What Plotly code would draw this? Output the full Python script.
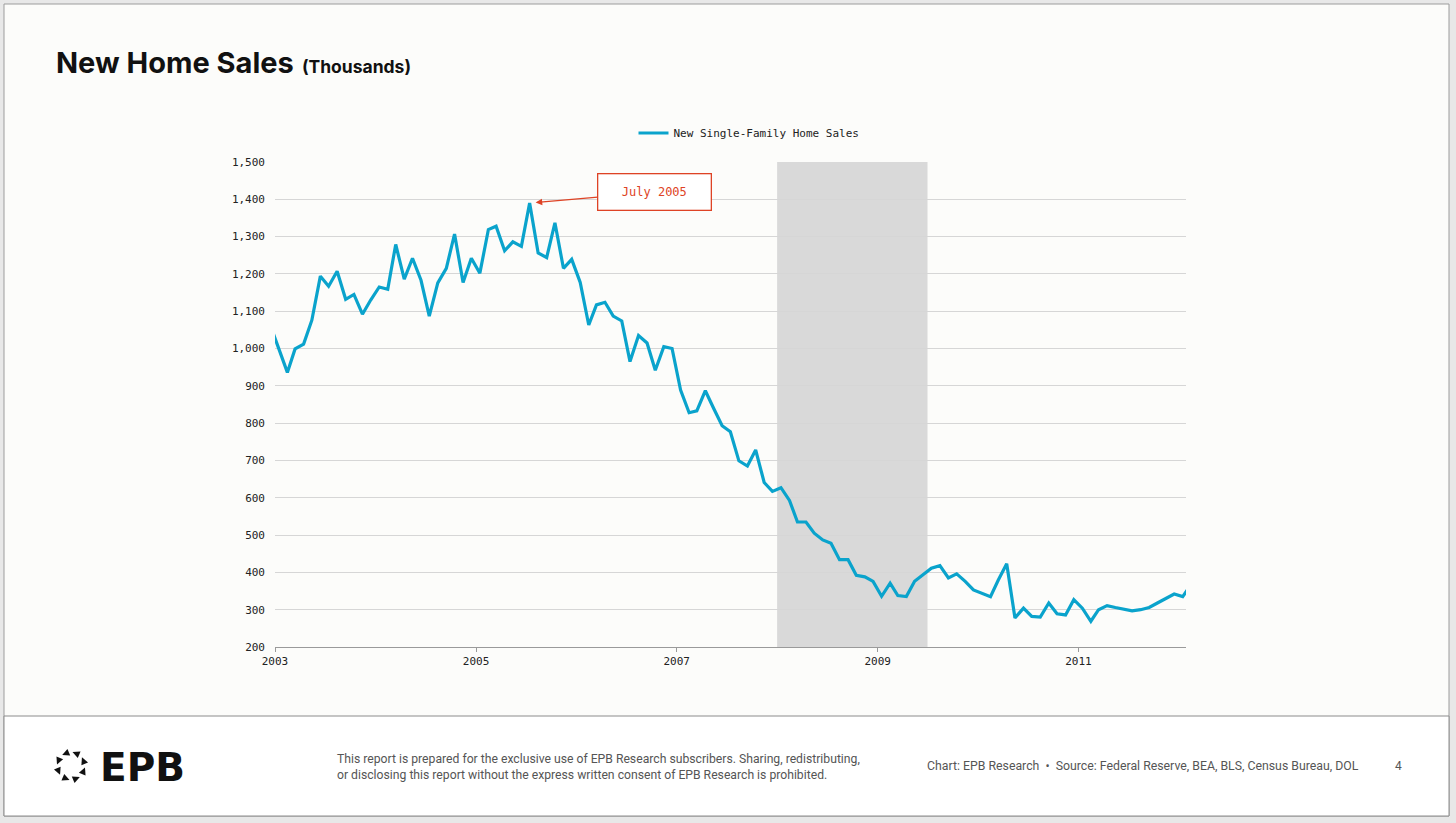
import numpy as np
import pandas as pd
import plotly.graph_objects as go

# ---------------- data (thousands, SAAR) ----------------
series_name = "New Single-Family Home Sales"
start_month = "2002-12-01"
v2002 = [1062]
v2003 = [999, 936, 999, 1012, 1076, 1194, 1167, 1207, 1132, 1145, 1092, 1130]
v2004 = [1165, 1159, 1279, 1186, 1242, 1183, 1087, 1176, 1215, 1307, 1177, 1242]
v2005 = [1202, 1319, 1328, 1262, 1286, 1274, 1390, 1256, 1244, 1337, 1215, 1239]
v2006 = [1177, 1063, 1117, 1124, 1087, 1074, 965, 1035, 1015, 942, 1005, 1000]
v2007 = [889, 828, 833, 887, 840, 793, 777, 699, 685, 728, 641, 617]
v2008 = [627, 593, 535, 535, 505, 487, 478, 434, 434, 392, 388, 376]
v2009 = [336, 371, 338, 335, 376, 394, 411, 418, 385, 396, 376, 353]
v2010 = [345, 335, 379, 423, 278, 304, 282, 280, 318, 289, 286, 327]
v2011 = [304, 269, 300, 311, 306, 302, 297, 300, 306, 318, 329, 342]
v2012 = [335, 368]
recession = ("2008-01-01", "2009-07-01")
peak_label = "July 2005"
peak_month = "2005-07"
x_tick_years = [2003, 2005, 2007, 2009, 2011]

values = v2002 + v2003 + v2004 + v2005 + v2006 + v2007 + v2008 + v2009 + v2010 + v2011 + v2012
dates = pd.date_range(start_month, periods=len(values), freq="MS") + pd.Timedelta(days=14)

# ---------------- geometry helpers ----------------
W, H = 1456, 823
L, R, T, B = 275, 270, 162, 176
PW, PH = W - L - R, H - T - B

def px(x):
    return (x - L) / PW

def py(y):
    return (H - B - y) / PH

LINE = "#0aa3cc"
RED = "#de4325"
MONO = "DejaVu Sans Mono"

fig = go.Figure()
fig.add_trace(go.Scatter(
    x=dates, y=values, mode="lines", name=series_name,
    line=dict(color=LINE, width=3.2), hoverinfo="x+y",
))

shapes = []
# page frame
shapes.append(dict(type="rect", xref="paper", yref="paper", x0=px(4), x1=px(1449), y0=py(816), y1=py(4),
                   fillcolor="#fcfcfa", line=dict(color="#9c9c9c", width=1), layer="below"))
shapes.append(dict(type="rect", xref="paper", yref="paper", x0=px(4), x1=px(1449), y0=py(816), y1=py(716),
                   fillcolor="#ffffff", line=dict(color="#8c8c8c", width=1), layer="below"))
# recession shading
shapes.append(dict(type="rect", xref="x", yref="paper", x0=recession[0], x1=recession[1], y0=0, y1=1,
                   fillcolor="#d9d9d9", line=dict(width=0), layer="between"))

# EPB logo: ring of triangles
cx, cy, rr = 71, 766, 13.5
for k in range(8):
    a = np.deg2rad(22.5 + 45 * k)
    mx, my = cx + rr * np.cos(a), cy - rr * np.sin(a)
    tx, ty = -np.sin(a), -np.cos(a)
    nx, ny = np.cos(a), -np.sin(a)
    s = 3.6
    p1 = (mx + tx * s * 1.1, my + ty * s * 1.1)
    p2 = (mx - tx * s * 0.9 + nx * s, my - ty * s * 0.9 + ny * s)
    p3 = (mx - tx * s * 0.9 - nx * s, my - ty * s * 0.9 - ny * s)
    path = "M {:.5f},{:.5f} L {:.5f},{:.5f} L {:.5f},{:.5f} Z".format(
        px(p1[0]), py(p1[1]), px(p2[0]), py(p2[1]), px(p3[0]), py(p3[1]))
    shapes.append(dict(type="path", xref="paper", yref="paper", path=path,
                       fillcolor="#111111", line=dict(width=0), layer="above"))

annotations = []
annotations.append(dict(
    xref="paper", yref="paper", x=px(54), y=py(62), xanchor="left", yanchor="middle", showarrow=False,
    text="<b>New Home Sales</b> <b><span style='font-size:17.5px'>(Thousands)</span></b>",
    font=dict(family="Inter", size=29, color="#111111"),
))
peak_idx = [i for i, d in enumerate(dates) if d.strftime("%Y-%m") == peak_month][0]
annotations.append(dict(
    x=dates[peak_idx], y=values[peak_idx], xref="x", yref="y",
    text=peak_label, showarrow=True, arrowhead=2, arrowsize=1.1, arrowwidth=1.2, arrowcolor=RED,
    ax=125, ay=-11, standoff=6,
    font=dict(family=MONO, size=12, color=RED),
    bgcolor="#ffffff", bordercolor=RED, borderwidth=1.3, borderpad=3,
    width=106, height=29,
))
annotations.append(dict(
    xref="paper", yref="paper", x=px(98), y=py(767), xanchor="left", yanchor="middle", showarrow=False,
    text="<b>EPB</b>", font=dict(family="DejaVu Sans", size=39, color="#111111"),
))
annotations.append(dict(
    xref="paper", yref="paper", x=px(335), y=py(767), xanchor="left", yanchor="middle", showarrow=False,
    align="left",
    text="This report is prepared for the exclusive use of EPB Research subscribers. Sharing, redistributing,"
         "<br>or disclosing this report without the express written consent of EPB Research is prohibited.",
    font=dict(family="Roboto", size=12.2, color="#555555"),
))
annotations.append(dict(
    xref="paper", yref="paper", x=px(1361), y=py(766), xanchor="right", yanchor="middle", showarrow=False,
    text="Chart: EPB Research  \u2022  Source: Federal Reserve, BEA, BLS, Census Bureau, DOL",
    font=dict(family="Roboto", size=12.3, color="#555555"),
))
annotations.append(dict(
    xref="paper", yref="paper", x=px(1398), y=py(766), xanchor="center", yanchor="middle", showarrow=False,
    text="4", font=dict(family="Roboto", size=12, color="#555555"),
))

fig.update_layout(
    width=W, height=H, autosize=False,
    margin=dict(l=L, r=R, t=T, b=B, pad=0),
    paper_bgcolor="#e8e8e8", plot_bgcolor="rgba(0,0,0,0)",
    showlegend=True,
    legend=dict(orientation="h", x=px(749), y=py(133), xanchor="center", yanchor="middle",
                bgcolor="rgba(0,0,0,0)", font=dict(family=MONO, size=11, color="#222222"),
                itemwidth=30),
    shapes=shapes, annotations=annotations,
    xaxis=dict(
        type="date", range=["2003-01-01", "2012-01-27"],
        tickvals=[f"{y}-01-01" for y in x_tick_years], ticktext=[str(y) for y in x_tick_years],
        showgrid=False, showline=True, linecolor="#9a9a9a", linewidth=1,
        ticks="outside", ticklen=4, tickcolor="#9a9a9a",
        tickfont=dict(family=MONO, size=11, color="#222222"), zeroline=False,
    ),
    yaxis=dict(
        range=[200, 1500], dtick=100, tick0=200, tickformat=",",
        showgrid=True, gridcolor="#d6d6d6", gridwidth=1, showline=False, zeroline=False,
        ticks="", ticklabelstandoff=9,
        tickfont=dict(family=MONO, size=11, color="#222222"),
    ),
    hovermode="closest",
)

fig.write_html("out.html", include_plotlyjs=True, full_html=True,
               config={"displayModeBar": False},
               post_script="document.body.style.margin='0';document.body.style.overflow='hidden';")
